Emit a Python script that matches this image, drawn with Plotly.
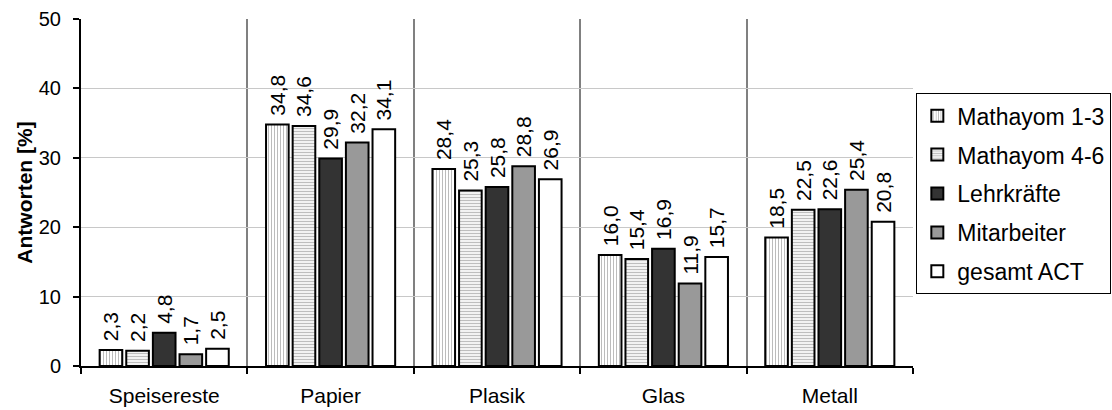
import plotly.graph_objects as go

# Waste categories and the share of answers per respondent group (in %)
categories = ["Speisereste", "Papier", "Plasik", "Glas", "Metall"]
mathayom_1_3 = [2.3, 34.8, 28.4, 16.0, 18.5]
mathayom_4_6 = [2.2, 34.6, 25.3, 15.4, 22.5]
lehrkraefte = [4.8, 29.9, 25.8, 16.9, 22.6]
mitarbeiter = [1.7, 32.2, 28.8, 11.9, 25.4]
gesamt_act = [2.5, 34.1, 26.9, 15.7, 20.8]

y_ticks = [0, 10, 20, 30, 40, 50]

FONT = "Liberation Sans, Arial, sans-serif"

series = [
    ("Mathayom 1-3", mathayom_1_3,
     dict(color="white", pattern=dict(shape="|", fgcolor="#7a7a7a", bgcolor="white",
                                      size=3, solidity=0.35))),
    ("Mathayom 4-6", mathayom_4_6,
     dict(color="white", pattern=dict(shape="-", fgcolor="#8a8a8a", bgcolor="#f2f2f2",
                                      size=3, solidity=0.35))),
    ("Lehrkräfte", lehrkraefte, dict(color="#333333")),
    ("Mitarbeiter", mitarbeiter, dict(color="#999999")),
    ("gesamt ACT", gesamt_act, dict(color="white")),
]

fig = go.Figure()
for name, values, marker in series:
    marker = dict(marker, line=dict(color="black", width=2))
    fig.add_trace(go.Bar(
        x=categories,
        y=values,
        name=name,
        legendgroup=name,
        marker=marker,
        texttemplate="\u00a0%{y:.1f}",
        textposition="outside",
        textangle=-90,
        textfont=dict(family=FONT, size=21, color="black"),
        cliponaxis=False,
        constraintext="none",
    ))

fig.update_layout(
    width=1112,
    height=410,
    margin=dict(l=81, r=199, t=19, b=44, autoexpand=False),
    paper_bgcolor="white",
    plot_bgcolor="white",
    separators=",.",
    barmode="group",
    bargap=0.2,
    bargroupgap=0.15,
    font=dict(family=FONT, color="black"),
    showlegend=True,
    legend=dict(
        x=1.004, xanchor="left",
        y=0.786, yanchor="top",
        font=dict(family=FONT, size=23, color="black"),
        bordercolor="black",
        borderwidth=1,
        bgcolor="white",
        tracegroupgap=6,
        traceorder="grouped",
    ),
    xaxis=dict(
        type="category",
        range=[-0.5, 4.5],
        tickson="boundaries",
        ticks="outside",
        ticklen=6,
        tickwidth=1.5,
        tickcolor="black",
        showgrid=True,
        gridcolor="#808080",
        gridwidth=1.5,
        showline=True,
        linecolor="black",
        linewidth=2,
        tickfont=dict(family=FONT, size=21, color="black"),
        ticklabelstandoff=10,
        automargin=False,
        fixedrange=True,
    ),
    yaxis=dict(
        range=[0, 50],
        tickvals=y_ticks,
        ticks="outside",
        ticklen=6,
        tickwidth=1.5,
        tickcolor="black",
        showgrid=True,
        gridcolor="#c8c8c8",
        gridwidth=1,
        zeroline=False,
        showline=True,
        linecolor="black",
        linewidth=2,
        tickfont=dict(family=FONT, size=20, color="black"),
        ticklabelstandoff=8,
        title=dict(text="<b>Antworten [%]</b>", font=dict(family=FONT, size=21, color="black"),
                   standoff=0),
        automargin=False,
        fixedrange=True,
    ),
)

fig.write_html("out.html")
